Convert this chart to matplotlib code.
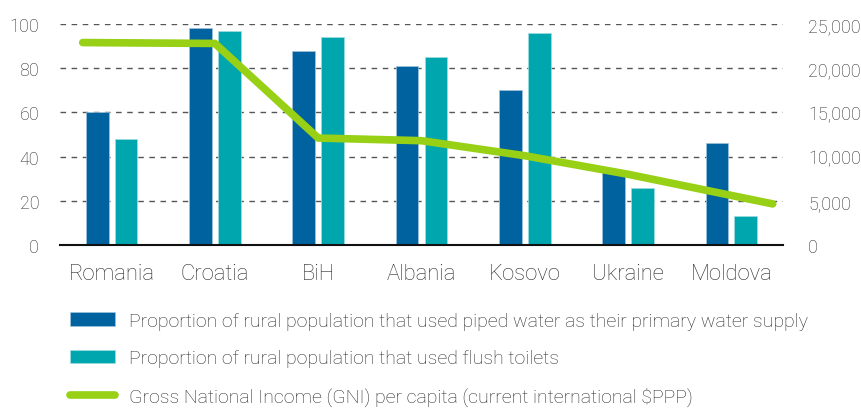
import matplotlib
matplotlib.use("Agg")
import matplotlib.pyplot as plt
import numpy as np
from matplotlib.ticker import FuncFormatter, MultipleLocator

countries = ["Romania", "Croatia", "BiH", "Albania", "Kosovo", "Ukraine", "Moldova"]
piped_water = [60, 98, 88, 81, 70, 34, 46]
flush_toilets = [48, 97, 94, 85, 96, 26, 13]
gni = [22900, 22800, 12100, 11800, 10100, 8000, 4650]

labels = [
    "Proportion of rural population that used piped water as their primary water supply",
    "Proportion of rural population that used flush toilets",
    "Gross National Income (GNI) per capita (current international $PPP)",
]

c_piped = "#00629F"
c_flush = "#00A6AE"
c_gni = "#97D014"
txt = "#2b2b2b"

plt.rcParams["font.family"] = ["Roboto", "DejaVu Sans"]

fig = plt.figure(figsize=(8.61, 4.10), dpi=100)
ax = fig.add_axes([60 / 861, 1 - 246 / 410, (783 - 60) / 861, (246 - 25) / 410])
ax2 = ax.twinx()

x = np.arange(len(countries))
w = 0.22
off = 0.14
ax.bar(x - off, piped_water, width=w, color=c_piped, edgecolor="#9fc3dd", linewidth=0.5, zorder=3, label=labels[0])
ax.bar(x + off, flush_toilets, width=w, color=c_flush, edgecolor="#9fdde0", linewidth=0.5, zorder=3, label=labels[1])

# line endpoints extend slightly beyond the first/last category
line_x = x.astype(float).copy()
line_x[0] -= 0.28
line_x[-1] += 0.40
ln, = ax2.plot(line_x, gni, color=c_gni, linewidth=5.5, solid_capstyle="round",
               solid_joinstyle="round", zorder=4, label=labels[2])

ax.set_xlim(-0.5, len(countries) - 0.5)
ax.set_ylim(0, 100)
ax2.set_ylim(0, 25000)
ax.yaxis.set_major_locator(MultipleLocator(20))
ax2.yaxis.set_major_locator(MultipleLocator(5000))
ax2.yaxis.set_major_formatter(FuncFormatter(lambda v, p: f"{int(v):,}"))

ax.set_xticks(x)
ax.set_xticklabels(countries, fontsize=15.8, color=txt, fontweight="light")
ax.tick_params(axis="x", length=0, pad=13)
ax.tick_params(axis="y", length=0, pad=15, labelsize=13, labelcolor=txt)
ax2.tick_params(axis="y", length=0, pad=18, labelsize=13, labelcolor=txt)
for lab in ax.get_yticklabels() + ax2.get_yticklabels():
    lab.set_fontweight("light")

ax.grid(axis="y", linestyle=(0, (4, 4)), color="#555555", linewidth=1.0, zorder=0)
ax.set_axisbelow(True)
for a in (ax, ax2):
    for s in ("top", "left", "right", "bottom"):
        a.spines[s].set_visible(False)
ax.spines["bottom"].set_visible(True)
ax.spines["bottom"].set_color("#111111")
ax.spines["bottom"].set_linewidth(1.5)
ax.spines["bottom"].set_zorder(5)

# legend below
h1, l1 = ax.get_legend_handles_labels()
leg = fig.legend(h1 + [ln], l1 + [labels[2]], loc="upper left",
                 bbox_to_anchor=(70 / 861, 1 - 313 / 410), frameon=False,
                 fontsize=14, labelcolor=txt, handlelength=2.3, handletextpad=0.72,
                 labelspacing=1.0, borderaxespad=0, borderpad=0)
for t in leg.get_texts():
    t.set_fontweight("light")

fig.savefig("out.png", dpi=100)
